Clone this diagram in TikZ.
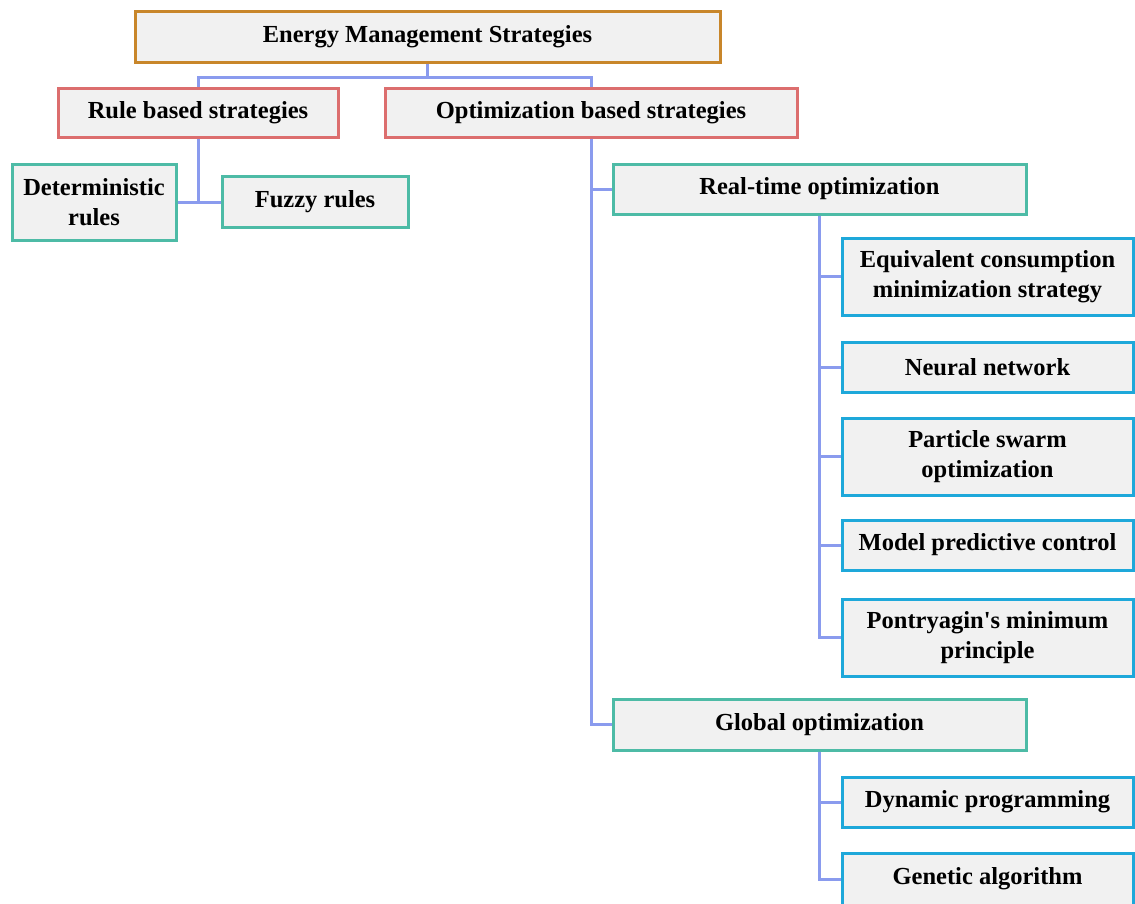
\documentclass[tikz,border=0pt]{standalone}
\usepackage{fontspec}
\setmainfont{Liberation Serif}
\usepackage{xcolor}
\usetikzlibrary{positioning,calc}

\definecolor{topline}{HTML}{C8862A}
\definecolor{midline}{HTML}{DC6E6E}
\definecolor{tealline}{HTML}{4DBBA6}
\definecolor{leafline}{HTML}{1EA8DA}
\definecolor{linkline}{HTML}{8A9BEE}
\definecolor{boxfill}{HTML}{F1F1F1}

\begin{document}
\begin{tikzpicture}[
    x=1pt, y=-1pt,
    box/.style={rectangle, draw, line width=3pt, fill=boxfill, align=center,
        inner sep=0pt, font=\fontsize{24.5}{30}\selectfont\bfseries},
    topbox/.style={box, draw=topline},
    midbox/.style={box, draw=midline},
    subbox/.style={box, draw=tealline},
    leafbox/.style={box, draw=leafline, minimum width=291pt},
    link/.style={draw=linkline, line width=3pt}
]
\useasboundingbox (0,0) rectangle (1135,903);

% Root and first level
\node[topbox, minimum width=585pt, minimum height=51pt] (ems) at (427.5, 36.5) {Energy Management Strategies};
\node[midbox, minimum width=280pt, minimum height=49pt] (rule) at (198, 112.5) {Rule based strategies};
\node[midbox, minimum width=412pt, minimum height=49pt] (opt) at (591, 112.5) {Optimization based strategies};

% Rule based branch
\node[subbox, minimum width=164pt, minimum height=76pt] (det) at (94, 202) {Deterministic\\rules};
\node[subbox, minimum width=186pt, minimum height=51pt] (fuzzy) at (315, 202) {Fuzzy rules};

% Optimization based branch
\node[subbox, minimum width=413pt, minimum height=50pt] (rt) at (819.5, 189) {Real-time optimization};
\node[subbox, minimum width=413pt, minimum height=51pt] (glob) at (819.5, 724.5) {Global optimization};

% Real-time methods
\node[leafbox, minimum height=77pt] (ecms) at (987.5, 276.5) {Equivalent consumption\\minimization strategy};
\node[leafbox, minimum height=50pt] (nn) at (987.5, 367) {Neural network};
\node[leafbox, minimum height=77pt] (pso) at (987.5, 456.5) {Particle swarm\\optimization};
\node[leafbox, minimum height=50pt] (mpc) at (987.5, 545) {Model predictive control};
\node[leafbox, minimum height=77pt] (pmp) at (987.5, 637.5) {Pontryagin\textquotesingle s minimum\\principle};

% Global methods
\node[leafbox, minimum height=50pt] (dp) at (987.5, 802) {Dynamic programming};
\node[leafbox, minimum height=52pt] (ga) at (987.5, 879) {Genetic algorithm};

% Connectors
\draw[link] (ems.south) -- ++(0,14) -| (rule.north);
\draw[link] (ems.south) -- ++(0,14) -| (opt.north);
\draw[link] (rule.south) -- (rule.south |- det.east);
\draw[link] (det.east) -- (fuzzy.west);
\draw[link] (opt.south) |- (rt.west);
\draw[link] (opt.south) |- (glob.west);
\foreach \m in {ecms, nn, pso, mpc, pmp}
    \draw[link] (rt.south) |- (\m.west);
\foreach \m in {dp, ga}
    \draw[link] (glob.south) |- (\m.west);

\end{tikzpicture}
\end{document}
